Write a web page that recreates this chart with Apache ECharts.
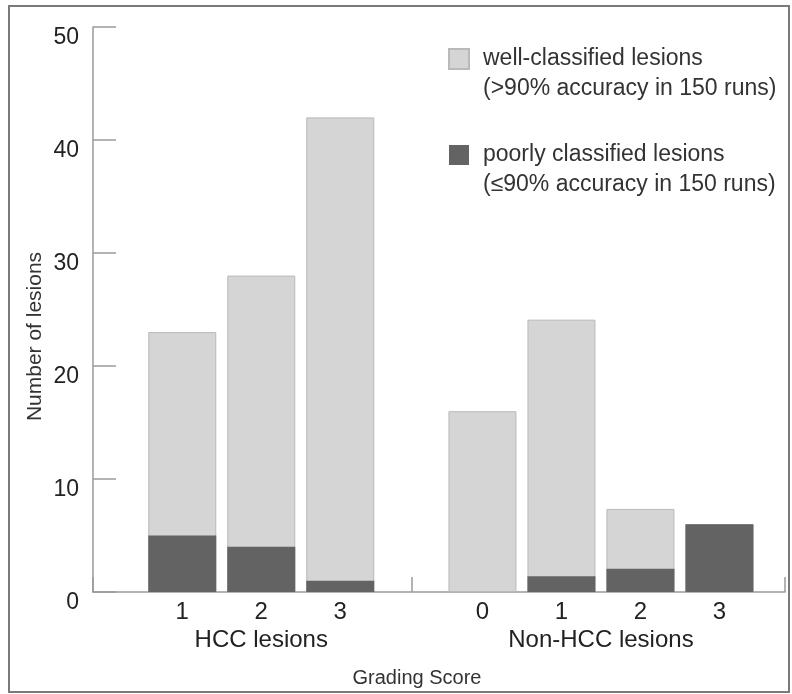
<!DOCTYPE html>
<html><head><meta charset="utf-8">
<script src="https://cdn.jsdelivr.net/npm/echarts@6/dist/echarts.min.js"></script>
<style>html,body{margin:0;padding:0;background:#fff}#c{width:792px;height:694px}</style>
</head><body><div id="c"></div>
<script>
// ---- data ----
const groupNames = ['HCC lesions', 'Non-HCC lesions'];
const hccGrades = [1, 2, 3];
const nonHccGrades = [0, 1, 2, 3];
const hccWell = [18, 24, 41];
const hccPoor = [5, 4, 1];
const nonHccWell = [16, 22.7, 5.3, 0];
const nonHccPoor = [0, 1.4, 2.05, 6];
const yTicks = [0, 10, 20, 30, 40, 50];
const seriesNames = [
  'well-classified lesions\n(>90% accuracy in 150 runs)',
  'poorly classified lesions\n(≤90% accuracy in 150 runs)'
];
const yName = 'Number of lesions';
const xName = 'Grading Score';

// ---- axis layout (grade units, groups shifted along the axis) ----
const groupOffset = [0, 4.8];
const xMin = -0.13, xMax = 8.63, groupDivider = 3.9;

const groups = [
  { grades: hccGrades, well: hccWell, poor: hccPoor },
  { grades: nonHccGrades, well: nonHccWell, poor: nonHccPoor }
];
const labelAt = [];
const totalData = [], poorData = [];
const groupCenters = [];
groups.forEach((g, gi) => {
  const xs = g.grades.map(v => v + groupOffset[gi]);
  xs.forEach((x, i) => {
    labelAt.push({ x: x, text: String(g.grades[i]) });
    poorData.push([x, g.poor[i]]);
    // well-classified stacked on top of poorly classified
    totalData.push([x, g.well[i] + g.poor[i]]);
  });
  groupCenters.push((xs[0] + xs[xs.length - 1]) / 2);
});
function findLabel(list, v) {
  for (const it of list) if (Math.abs(it.x - v) < 1e-6) return it.text;
  return '';
}
const groupLabelAt = groupCenters.map((x, i) => ({ x: x, text: groupNames[i] }));

const FONT = "'Liberation Sans', Arial, sans-serif";
const axisColor = '#9a9a9a';

const chart = echarts.init(document.getElementById('c'), null, { renderer: 'canvas' });
chart.setOption({
  animation: false,
  backgroundColor: '#fff',
  textStyle: { fontFamily: FONT },
  graphic: [{
    type: 'rect', silent: true,
    shape: { x: 9, y: 6, width: 780, height: 686 },
    style: { fill: 'none', stroke: '#7a7a7a', lineWidth: 2 }
  }],
  grid: { left: 93, right: 7, top: 27, bottom: 102, outerBoundsMode: 'none' },
  legend: {
    orient: 'vertical', left: 448, top: 14, padding: 0,
    itemWidth: 20, itemHeight: 20, itemGap: 6, icon: 'rect',
    data: [seriesNames[0], seriesNames[1]],
    formatter: name => '\n' + name,
    textStyle: { fontSize: 23, color: '#333', lineHeight: 30, padding: [0, 0, 0, 9], fontFamily: FONT },
    selectedMode: false
  },
  xAxis: [{
    type: 'value', min: xMin, max: xMax,
    name: xName, nameLocation: 'middle', nameGap: 76,
    nameTextStyle: { fontSize: 20, color: '#333', padding: [0, 44, 0, 0], fontFamily: FONT },
    splitLine: { show: false },
    axisLine: { show: true, onZero: false, lineStyle: { color: axisColor, width: 1.5 } },
    axisTick: { show: true, inside: true, length: 15, customValues: [xMin, groupDivider, xMax], lineStyle: { color: axisColor, width: 1.5 } },
    axisLabel: {
      customValues: labelAt.map(d => d.x), fontSize: 24, color: '#222', margin: 8,
      formatter: v => findLabel(labelAt, v)
    }
  }, {
    type: 'value', min: xMin, max: xMax, position: 'bottom',
    splitLine: { show: false }, axisLine: { show: false, onZero: false }, axisTick: { show: false },
    axisLabel: {
      customValues: groupLabelAt.map(d => d.x), fontSize: 24, color: '#222', margin: 36,
      formatter: v => findLabel(groupLabelAt, v)
    }
  }],
  yAxis: {
    type: 'value', min: yTicks[0], max: yTicks[yTicks.length - 1], interval: 10,
    name: yName, nameLocation: 'middle', nameGap: 47, nameMoveOverlap: false,
    nameTextStyle: { fontSize: 21, color: '#333', padding: [0, 54, 0, 0], fontFamily: FONT },
    splitLine: { show: false },
    axisLine: { show: true, onZero: false, lineStyle: { color: axisColor, width: 1.5 } },
    axisTick: { show: true, inside: true, length: 23, lineStyle: { color: axisColor, width: 1.5 } },
    axisLabel: { fontSize: 23, color: '#222', margin: 14, verticalAlign: 'top', lineHeight: 22 }
  },
  series: [{
    name: seriesNames[0], type: 'bar', barWidth: 68, barGap: '-100%',
    xAxisIndex: 0, z: 2,
    data: totalData,
    itemStyle: { color: '#d5d5d5', borderColor: '#b9b9b9', borderWidth: 1 }
  }, {
    name: seriesNames[1], type: 'bar', barWidth: 68, barGap: '-100%',
    xAxisIndex: 0, z: 3,
    data: poorData,
    itemStyle: { color: '#636363', borderWidth: 0 }
  }]
});
</script></body></html>
